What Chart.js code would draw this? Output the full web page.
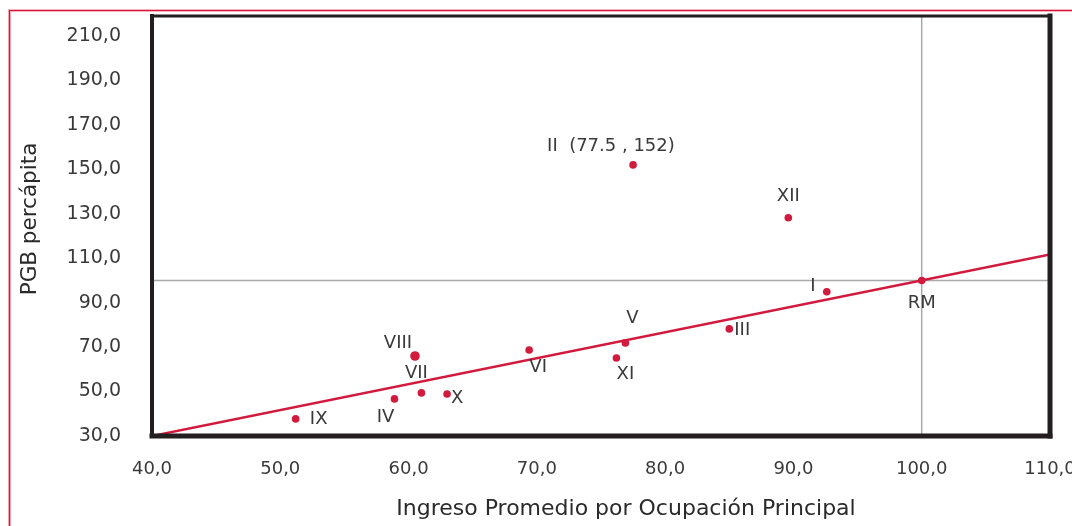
<!DOCTYPE html>
<html>
<head>
<meta charset="utf-8">
<script src="https://cdn.jsdelivr.net/npm/chart.js@4/dist/chart.umd.min.js"></script>
<style>
  html, body { margin: 0; padding: 0; background: #fff; }
</style>
</head>
<body>
<canvas id="chart" width="1072" height="526"></canvas>
<script>
// regions: ingreso promedio (x) vs PGB percapita (y)
var regionNames = ['II', 'XII', 'I', 'RM', 'III', 'V', 'XI', 'VI', 'VIII', 'VII', 'X', 'IV', 'IX'];
var ingreso = [77.5, 89.6, 92.6, 100.0, 85.0, 76.9, 76.2, 69.4, 60.5, 61.0, 63.0, 58.9, 51.2];
var pgb = [152, 128.2, 94.9, 100.0, 78.2, 71.9, 65.1, 68.7, 66.0, 49.4, 48.9, 46.7, 37.7];

// regression line ends
var trendX = [40, 110];
var trendY = [30, 111.7];

// reference lines (RM = 100)
var refX = 100;
var refY = 100;

var xTicks = [40, 50, 60, 70, 80, 90, 100, 110];
var yTicks = [30, 50, 70, 90, 110, 130, 150, 170, 190, 210];
var yMax = 219;

var xTitle = 'Ingreso Promedio por Ocupación Principal';
var yTitle = 'PGB percápita';

// label placement around each dot, in px
var labelStyle = {
  'II':   { dx: -86, dy: -19, align: 'left', coords: true },
  'XII':  { dx: 0,   dy: -21, align: 'center' },
  'I':    { dx: -14, dy: -5,  align: 'center' },
  'RM':   { dx: 0,   dy: 23,  align: 'center' },
  'III':  { dx: 5,   dy: 1,   align: 'left' },
  'V':    { dx: 7,   dy: -25, align: 'center' },
  'XI':   { dx: 9,   dy: 16,  align: 'center' },
  'VI':   { dx: 9,   dy: 17,  align: 'center' },
  'VIII': { dx: -17, dy: -13, align: 'center' },
  'VII':  { dx: -5,  dy: -20, align: 'center' },
  'X':    { dx: 10,  dy: 4,   align: 'center' },
  'IV':   { dx: -9,  dy: 18,  align: 'center' },
  'IX':   { dx: 23,  dy: 0,   align: 'center' }
};

var RED = '#d11a3d';
var TEXT = '#3a3a3a';
var FONT = '"DejaVu Sans", sans-serif';

function fmt(v) {
  return v.toFixed(1).replace('.', ',');
}

function noPad(scale) {
  scale.paddingTop = 0;
  scale.paddingBottom = 0;
  scale.paddingLeft = 0;
  scale.paddingRight = 0;
}

var points = regionNames.map(function(name, i) {
  return { x: ingreso[i], y: pgb[i], name: name };
});

var pageFrame = {
  id: 'pageFrame',
  beforeDraw: function(chart) {
    var ctx = chart.ctx;
    ctx.save();
    ctx.strokeStyle = 'rgba(225, 40, 70, 0.35)';
    ctx.lineWidth = 3;
    ctx.beginPath();
    ctx.moveTo(9.5, chart.height);
    ctx.lineTo(9.5, 10.5);
    ctx.lineTo(chart.width, 10.5);
    ctx.stroke();
    ctx.strokeStyle = '#d8143c';
    ctx.lineWidth = 1.2;
    ctx.stroke();
    ctx.restore();
  }
};

var plotFrame = {
  id: 'plotFrame',
  afterDatasetsDraw: function(chart) {
    var a = chart.chartArea;
    var ctx = chart.ctx;
    ctx.save();
    ctx.strokeStyle = '#231f20';
    ctx.lineCap = 'square';
    function seg(x1, y1, x2, y2, w) {
      ctx.lineWidth = w;
      ctx.beginPath();
      ctx.moveTo(x1, y1);
      ctx.lineTo(x2, y2);
      ctx.stroke();
    }
    seg(a.left, a.top, a.right, a.top, 3);
    seg(a.left, a.top, a.left, a.bottom, 4);
    seg(a.right, a.top, a.right, a.bottom, 5);
    seg(a.left, a.bottom, a.right, a.bottom, 5);
    ctx.restore();
  }
};

var pointLabels = {
  id: 'pointLabels',
  afterDatasetsDraw: function(chart) {
    var meta = chart.getDatasetMeta(3);
    var ctx = chart.ctx;
    ctx.save();
    ctx.fillStyle = TEXT;
    ctx.font = '18px ' + FONT;
    ctx.textBaseline = 'middle';
    meta.data.forEach(function(el, i) {
      var name = regionNames[i];
      var st = labelStyle[name];
      var txt = name;
      if (st.coords) {
        txt = name + '  (' + ingreso[i] + ' , ' + pgb[i] + ')';
      }
      ctx.textAlign = st.align;
      ctx.fillText(txt, el.x + st.dx, el.y + st.dy);
    });
    ctx.restore();
  }
};

var axisTitles = {
  id: 'axisTitles',
  afterDraw: function(chart) {
    var a = chart.chartArea;
    var ctx = chart.ctx;
    ctx.save();
    ctx.fillStyle = '#2a2a2a';
    ctx.textAlign = 'center';
    ctx.textBaseline = 'middle';
    ctx.font = '22px ' + FONT;
    ctx.fillText(xTitle, (a.left + a.right) / 2 + 25, 509);
    ctx.translate(30, (a.top + a.bottom) / 2 - 7);
    ctx.rotate(-Math.PI / 2);
    ctx.font = '21.5px ' + FONT;
    ctx.fillText(yTitle, 0, 0);
    ctx.restore();
  }
};

new Chart(document.getElementById('chart'), {
  type: 'scatter',
  data: {
    datasets: [
      {
        type: 'line',
        data: [{ x: refX, y: yTicks[0] }, { x: refX, y: yMax }],
        borderColor: '#a7a9ac',
        borderWidth: 1.5,
        pointRadius: 0,
        order: 4
      },
      {
        type: 'line',
        data: [{ x: xTicks[0], y: refY }, { x: xTicks[xTicks.length - 1], y: refY }],
        borderColor: '#a7a9ac',
        borderWidth: 1.5,
        pointRadius: 0,
        order: 3
      },
      {
        type: 'line',
        data: trendX.map(function(x, i) { return { x: x, y: trendY[i] }; }),
        borderColor: RED,
        borderWidth: 2.5,
        pointRadius: 0,
        order: 2
      },
      {
        data: points,
        backgroundColor: RED,
        borderWidth: 0,
        pointRadius: regionNames.map(function(n) { return n === 'VIII' ? 4.8 : 3.8; }),
        order: 1
      }
    ]
  },
  options: {
    responsive: false,
    animation: false,
    layout: { autoPadding: false, padding: { left: 0, top: 16, right: 22, bottom: 0 } },
    plugins: {
      legend: { display: false },
      tooltip: { enabled: false }
    },
    scales: {
      x: {
        type: 'linear',
        min: xTicks[0],
        max: xTicks[xTicks.length - 1],
        afterBuildTicks: function(scale) {
          scale.ticks = xTicks.map(function(v) { return { value: v }; });
        },
        afterFit: function(scale) { scale.height = 90; noPad(scale); },
        grid: { display: false, drawTicks: false },
        border: { display: false },
        ticks: {
          color: TEXT,
          font: { family: FONT, size: 18 },
          padding: 23,
          maxRotation: 0,
          callback: function(v) { return fmt(v); }
        }
      },
      y: {
        type: 'linear',
        min: yTicks[0],
        max: yMax,
        afterBuildTicks: function(scale) {
          scale.ticks = yTicks.map(function(v) { return { value: v }; });
        },
        afterFit: function(scale) { scale.width = 152; noPad(scale); },
        grid: { display: false, drawTicks: false },
        border: { display: false },
        ticks: {
          color: TEXT,
          font: { family: FONT, size: 19 },
          padding: 31,
          callback: function(v) { return fmt(v); }
        }
      }
    }
  },
  plugins: [pageFrame, plotFrame, pointLabels, axisTitles]
});
</script>
</body>
</html>
